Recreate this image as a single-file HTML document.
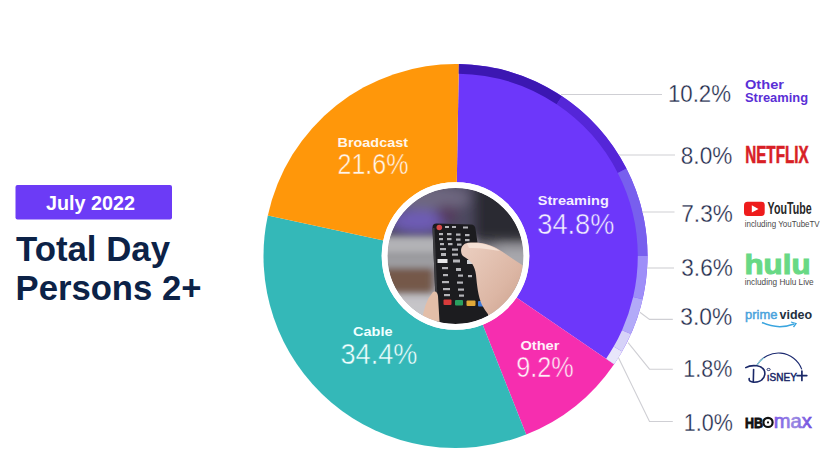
<!DOCTYPE html>
<html><head><meta charset="utf-8">
<style>
html,body{margin:0;padding:0;background:#fff;width:832px;height:470px;overflow:hidden}
svg{display:block}
text{font-family:"Liberation Sans",sans-serif}
</style></head>
<body>
<svg width="832" height="470" viewBox="0 0 832 470">
<defs>
  <clipPath id="photoClip"><circle cx="455.5" cy="256" r="68"/></clipPath>
  <filter id="blur6" x="-50%" y="-50%" width="200%" height="200%"><feGaussianBlur stdDeviation="6"/></filter>
  <filter id="blur3" x="-50%" y="-50%" width="200%" height="200%"><feGaussianBlur stdDeviation="3"/></filter>
  <filter id="blur1" x="-50%" y="-50%" width="200%" height="200%"><feGaussianBlur stdDeviation="0.7"/></filter>
  <linearGradient id="maxGrad" x1="0" x2="1" y1="0" y2="0"><stop offset="0" stop-color="#7a56e6"/><stop offset="0.55" stop-color="#9a8ae2"/><stop offset="1" stop-color="#7048e0"/></linearGradient>
  <linearGradient id="skin" x1="0" x2="1" y1="0" y2="1"><stop offset="0" stop-color="#ecd0c2"/><stop offset="0.55" stop-color="#dcb6a4"/><stop offset="1" stop-color="#c49884"/></linearGradient>
</defs>

<!-- left header -->
<rect x="15.5" y="185" width="156.5" height="34.5" rx="2" fill="#6c3bf6"/>
<text x="46" y="209.8" font-size="20" font-weight="bold" fill="#fff" textLength="89" lengthAdjust="spacingAndGlyphs">July 2022</text>
<text x="16" y="261" font-size="35.2" font-weight="bold" fill="#0c2247" textLength="154" lengthAdjust="spacingAndGlyphs">Total Day</text>
<text x="15.5" y="300.2" font-size="35.2" font-weight="bold" fill="#0c2247" textLength="186" lengthAdjust="spacingAndGlyphs">Persons 2+</text>

<!-- donut -->
<path d="M455.5,256 L458.85,64.03 A192,192 0 0 1 614.11,364.20 Z" fill="#6d37fa"/>
<path d="M455.5,256 L614.11,364.20 A192,192 0 0 1 526.18,434.52 Z" fill="#f62eaf"/>
<path d="M455.5,256 L526.18,434.52 A192,192 0 0 1 267.84,215.43 Z" fill="#34b8b8"/>
<path d="M455.5,256 L267.84,215.43 A192,192 0 0 1 458.85,64.03 Z" fill="#ff970a"/>
<path d="M458.85,64.03 A192,192 0 0 1 562.03,96.26 L556.65,104.33 A182.3,182.3 0 0 0 458.68,73.73 Z" fill="#3c17b2"/>
<path d="M562.03,96.26 A192,192 0 0 1 626.42,168.54 L617.79,172.95 A182.3,182.3 0 0 0 556.65,104.33 Z" fill="#5526d8"/>
<path d="M626.42,168.54 A192,192 0 0 1 647.50,256.00 L637.80,256.00 A182.3,182.3 0 0 0 617.79,172.95 Z" fill="#785fee"/>
<path d="M647.50,256.00 A192,192 0 0 1 642.58,299.19 L633.13,297.01 A182.3,182.3 0 0 0 637.80,256.00 Z" fill="#9e8ef8"/>
<path d="M642.58,299.19 A192,192 0 0 1 630.90,334.09 L622.04,330.15 A182.3,182.3 0 0 0 633.13,297.01 Z" fill="#b2aaf8"/>
<path d="M630.90,334.09 A192,192 0 0 1 622.11,351.42 L613.69,346.60 A182.3,182.3 0 0 0 622.04,330.15 Z" fill="#d6d2f8"/>
<path d="M622.11,351.42 A192,192 0 0 1 614.11,364.20 L606.10,358.73 A182.3,182.3 0 0 0 613.69,346.60 Z" fill="#e8e6fa"/>

<!-- segment labels -->
<g fill="#fff6ea">
<text x="337.5" y="146.7" font-size="13.3" font-weight="bold" textLength="70.5" lengthAdjust="spacingAndGlyphs">Broadcast</text>
<text x="337.5" y="174.2" font-size="30" stroke="#ff970a" stroke-width="0.5" textLength="71" lengthAdjust="spacingAndGlyphs">21.6%</text>
</g>
<g fill="#f4eeff">
<text x="537.8" y="205.4" font-size="13.3" font-weight="bold" textLength="71" lengthAdjust="spacingAndGlyphs">Streaming</text>
<text x="537.3" y="233.5" font-size="30" stroke="#6d37fa" stroke-width="0.5" textLength="77" lengthAdjust="spacingAndGlyphs">34.8%</text>
</g>
<g fill="#f0ffff">
<text x="353" y="336.1" font-size="13.3" font-weight="bold" textLength="39.5" lengthAdjust="spacingAndGlyphs">Cable</text>
<text x="340.5" y="364.2" font-size="30" stroke="#34b8b8" stroke-width="0.5" textLength="77" lengthAdjust="spacingAndGlyphs">34.4%</text>
</g>
<g fill="#fff0fa">
<text x="520.4" y="349.8" font-size="13.3" font-weight="bold" textLength="39" lengthAdjust="spacingAndGlyphs">Other</text>
<text x="516.2" y="377.3" font-size="30" stroke="#f62eaf" stroke-width="0.5" textLength="57.5" lengthAdjust="spacingAndGlyphs">9.2%</text>
</g>

<!-- photo -->
<circle cx="455.5" cy="256" r="73.8" fill="#fff"/>
<g clip-path="url(#photoClip)">
  <rect x="380" y="180" width="150" height="150" fill="#8c8a92"/>
  <g filter="url(#blur6)">
    <rect x="370" y="170" width="170" height="70" fill="#4e4a60"/>
    <ellipse cx="430" cy="198" rx="40" ry="12" fill="#6e6880"/>
    <ellipse cx="418" cy="221" rx="28" ry="11" fill="#6e5cb6"/>
    <ellipse cx="447" cy="214" rx="10" ry="9" fill="#55385c"/>
    <rect x="474" y="170" width="70" height="72" fill="#2b2a30"/>
    <rect x="370" y="292" width="170" height="45" fill="#c6c5c8"/>
    <rect x="498" y="248" width="40" height="50" fill="#a8a8ad"/>
  </g>
  <g filter="url(#blur3)">
    <rect x="360" y="237" width="115" height="17" fill="#b2b2b6"/>
    <rect x="360" y="253.5" width="115" height="2" fill="#7c7c80"/>
    <rect x="360" y="255.5" width="115" height="12" fill="#9e9ea2"/>
    <rect x="360" y="268" width="72" height="24" fill="#74584a"/>
  </g>
  <!-- remote -->
  <path d="M432.5,228 Q432.3,223.6 436.5,223.6 L471,224.5 Q475,224.7 475.5,229 L491,334 L437,334 Z" fill="#1c1c1f"/>
  <path d="M432.5,228 L437,334 L439,334 L434.5,228 Z" fill="#3c3c40" filter="url(#blur1)"/>
  <circle cx="439.3" cy="227.5" r="2.8" fill="#d84848" filter="url(#blur1)"/>
  <g fill="#b4b4b8" filter="url(#blur1)">
    <rect x="445" y="226" width="4" height="2"/><rect x="452" y="226" width="4" height="2"/><rect x="463" y="226.5" width="5" height="2"/>
    <rect x="439" y="233" width="4" height="2.2"/><rect x="447" y="233" width="4.5" height="2.2"/><rect x="456" y="233.5" width="4.5" height="2.2"/><rect x="465" y="234" width="4.5" height="2.2"/>
    <rect x="439" y="238" width="4" height="2.2"/><rect x="447" y="238" width="4.5" height="2.2"/><rect x="456" y="238.5" width="4.5" height="2.2"/><rect x="465" y="239" width="4.5" height="2.2"/>
    <rect x="440" y="243" width="4" height="2.2"/><rect x="448" y="243" width="4.5" height="2.2"/><rect x="457" y="243.5" width="4.5" height="2.2"/>
    <rect x="440" y="248" width="6" height="2.2"/><rect x="452" y="248.5" width="6" height="2.2"/>
    <rect x="441" y="253" width="5" height="3"/><rect x="452" y="253.5" width="6" height="2.2"/>
    <rect x="437.5" y="259" width="10" height="4" fill="#e6e6e8"/><rect x="453" y="259.5" width="7" height="3"/><rect x="467" y="260" width="7" height="4" fill="#d0d0d4"/>
    <rect x="442" y="267" width="6" height="2.2"/><rect x="456" y="268" width="5" height="3"/>
    <rect x="443" y="274" width="5" height="2.2"/><rect x="458" y="274.5" width="5" height="2.2"/><rect x="468" y="275" width="4" height="2.2"/>
    <rect x="442" y="281" width="7" height="2.2"/><rect x="457" y="281.5" width="6" height="2.2"/>
    <rect x="443" y="288" width="7" height="2.2"/><rect x="458" y="288.5" width="6" height="2.2"/>
    <rect x="444" y="294" width="6" height="2.2"/><rect x="459" y="294.5" width="5" height="2.2"/>
  </g>
  <rect x="443.5" y="299.5" width="8" height="5.5" rx="1" fill="#d83a3a" filter="url(#blur1)"/>
  <rect x="455" y="300" width="8" height="5.5" rx="1" fill="#2aa060" filter="url(#blur1)"/>
  <rect x="466.5" y="300.5" width="9" height="5.5" rx="1" fill="#e0a838" filter="url(#blur1)"/>
  <rect x="478" y="301" width="7" height="5.5" rx="1" fill="#3a78d8" filter="url(#blur1)"/>
  <!-- hand -->
  <path d="M463,256 C459.5,252 460.5,244 468,242.8 C477,241.5 490,243 502,251.5 C512,258.5 522,265 530,270 L530,330 L500,330 C492,320 486,312 482,305 C478,296 477,285 476,275 C475,266 471,261 466,258 Z" fill="url(#skin)" filter="url(#blur1)"/>
  <path d="M467,243.5 C477,242 490,244 500,251 C490,249 478,247.5 469,248 Z" fill="#f4e0d4" filter="url(#blur1)"/>
  <path d="M422,322 Q424,302 433,292 Q437,290 438,296 L440,330 L420,330 Z" fill="#e3bea8" filter="url(#blur1)"/>
</g>
<circle cx="455.5" cy="256" r="70.9" fill="none" stroke="#fff" stroke-width="5.8"/>

<!-- connector lines -->
<g stroke="#cfcfd4" stroke-width="1.1" fill="none">
  <path d="M561,94.5 H662"/>
  <path d="M619,155 H675"/>
  <path d="M642,212 H674.5"/>
  <path d="M647,268 H674"/>
  <path d="M639.9,312.3 L649.5,319.4 H672.8"/>
  <path d="M628.1,342.7 L649.5,369.2 H672.8"/>
  <path d="M618.5,357.7 L649.5,421.5 H672.8"/>
</g>

<!-- right percentages -->
<g fill="#1f2b4c" font-size="23.5" text-anchor="end" stroke="#fff" stroke-width="0.3">
  <text x="731" y="101.9" textLength="63.1" lengthAdjust="spacingAndGlyphs">10.2%</text>
  <text x="732.3" y="163.6" textLength="51.5" lengthAdjust="spacingAndGlyphs">8.0%</text>
  <text x="732.8" y="221.5" textLength="51.5" lengthAdjust="spacingAndGlyphs">7.3%</text>
  <text x="732.8" y="275.5" textLength="51.5" lengthAdjust="spacingAndGlyphs">3.6%</text>
  <text x="732.3" y="325.1" textLength="52" lengthAdjust="spacingAndGlyphs">3.0%</text>
  <text x="732.3" y="377.2" textLength="49" lengthAdjust="spacingAndGlyphs">1.8%</text>
  <text x="732.8" y="430.7" textLength="49" lengthAdjust="spacingAndGlyphs">1.0%</text>
</g>

<!-- logos -->
<text x="745" y="88.7" font-size="12" font-weight="bold" fill="#5a2fd6" textLength="39" lengthAdjust="spacingAndGlyphs">Other</text>
<text x="745" y="101.9" font-size="12" font-weight="bold" fill="#5a2fd6" textLength="63" lengthAdjust="spacingAndGlyphs">Streaming</text>

<text x="745.2" y="162.6" font-size="23" font-weight="bold" fill="#d81f26" stroke="#d81f26" stroke-width="0.6" textLength="63.5" lengthAdjust="spacingAndGlyphs">NETFLIX</text>

<rect x="744" y="201.7" width="20.7" height="14.3" rx="3.5" fill="#ee1c1c"/>
<path d="M751.8,205.3 L758.5,208.9 L751.8,212.5 Z" fill="#fff"/>
<text x="767.6" y="214.4" font-size="17" font-weight="bold" fill="#282828" textLength="44" lengthAdjust="spacingAndGlyphs">YouTube</text>
<text x="744.7" y="227.3" font-size="8.6" fill="#4a4a4a" textLength="75" lengthAdjust="spacingAndGlyphs">including YouTubeTV</text>

<text x="744.5" y="274" font-size="28" font-weight="bold" fill="#68d985" stroke="#68d985" stroke-width="1" textLength="66" lengthAdjust="spacingAndGlyphs">hulu</text>
<text x="744.7" y="284.8" font-size="8.6" fill="#4a4a4a" textLength="69" lengthAdjust="spacingAndGlyphs">including Hulu Live</text>

<text x="745.1" y="318.7" font-size="12.5" fill="#4aa3dc" stroke="#4aa3dc" stroke-width="0.45" textLength="32.3" lengthAdjust="spacingAndGlyphs">prime</text>
<text x="779.6" y="318.7" font-size="12" font-weight="bold" fill="#232f3e" textLength="32.5" lengthAdjust="spacingAndGlyphs">video</text>
<path d="M762,322.5 Q778,330 794,324" stroke="#3aa5df" stroke-width="1.5" fill="none"/>
<path d="M791,322 L796,323.5 L793.5,327" stroke="#3aa5df" stroke-width="1.3" fill="none"/>

<!-- disney+ -->
<path d="M757,365 A25,25 0 0 1 801.8,369.4" fill="none" stroke="#1c2a70" stroke-width="1.1"/>
<path d="M757,365 A25,25 0 0 1 764,358" fill="none" stroke="#8fd8e0" stroke-width="1.1"/>
<g fill="none" stroke="#1a2868" stroke-linecap="round">
  <path d="M745.8,367.6 Q750,365 757,365.8 Q765.5,367.5 764.8,374.5 Q763.5,382 754,382.2 Q748.5,382 749.2,378.5" stroke-width="1.6"/>
  <path d="M753.6,369.5 L753.3,382" stroke-width="1.6"/>
  <path d="M797,375.6 H806.8 M801.9,371 V380.5" stroke-width="1.7"/>
</g>
<ellipse cx="768.6" cy="369.5" rx="1.6" ry="1.1" fill="none" stroke="#1a2868" stroke-width="0.9"/>
<text x="766.8" y="381" font-size="11" fill="#1a2868" stroke="#1a2868" stroke-width="0.5" textLength="30" lengthAdjust="spacingAndGlyphs">ıSNEY</text>

<!-- hbo max -->
<text x="745" y="428" font-size="15.4" font-weight="bold" fill="#111" stroke="#111" stroke-width="0.9" textLength="18" lengthAdjust="spacingAndGlyphs">HB</text>
<circle cx="768" cy="422.4" r="4.6" fill="none" stroke="#111" stroke-width="2.2"/>
<circle cx="768" cy="422.4" r="1.1" fill="#111"/>
<text x="773.8" y="428" font-size="20" fill="url(#maxGrad)" stroke="url(#maxGrad)" stroke-width="0.7" textLength="38" lengthAdjust="spacingAndGlyphs">max</text>
</svg>
</body></html>
